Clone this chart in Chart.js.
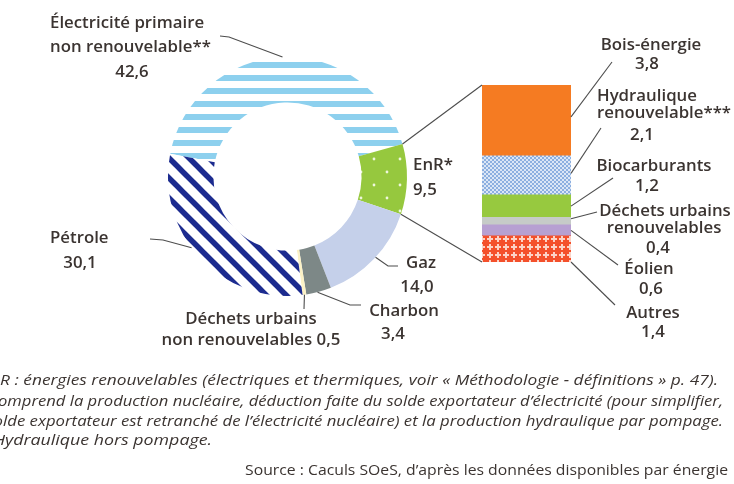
<!DOCTYPE html>
<html>
<head>
<meta charset="utf-8">
<script src="https://cdn.jsdelivr.net/npm/chart.js@4.4.1/dist/chart.umd.min.js"></script>
<style>
    html, body { margin: 0; padding: 0; background: #fff; }
    #wrap { position: relative; width: 734px; height: 484px; overflow: hidden; }
    canvas { position: absolute; }
    #donut { left: 160px; top: 49px; }
    #bar { left: 470px; top: 75px; }
    #overlay { left: 0; top: 0; pointer-events: none; }
</style>
</head>
<body>
<div id="wrap">
    <canvas id="donut" width="255" height="255"></canvas>
    <canvas id="bar" width="113" height="197"></canvas>
    <canvas id="overlay" width="734" height="484"></canvas>
</div>
<script>
// Consommation d'énergie primaire (%), ordre horaire depuis la gauche
const mixLabels = ['Électricité primaire non renouvelable', 'EnR', 'Gaz', 'Charbon', 'Déchets urbains non renouvelables', 'Pétrole'];
const mixValues = [42.6, 9.5, 14.0, 3.4, 0.5, 30.1];

// Détail des EnR, de haut en bas
const enrLabels = ['Bois-énergie', 'Hydraulique renouvelable', 'Biocarburants', 'Déchets urbains renouvelables', 'Éolien', 'Autres'];
const enrValues = [3.8, 2.1, 1.2, 0.4, 0.6, 1.4];

const TEXT = '#3b3431';
const LINE = '#4d4d4d';

const overlay = document.getElementById('overlay');
const octx = overlay.getContext('2d');

// Pattern helper
function makePattern(w, h, draw) {
    const c = document.createElement('canvas');
    c.width = w;
    c.height = h;
    const g = c.getContext('2d');
    draw(g, w, h);
    return octx.createPattern(c, 'repeat');
}

const elecPattern = makePattern(8, 13, (g, w, h) => {
    g.fillStyle = '#fff';
    g.fillRect(0, 0, w, h);
    g.fillStyle = '#8dd0ee';
    g.fillRect(0, 0, w, 6);
});

const petrolePattern = makePattern(20, 20, (g, w, h) => {
    g.fillStyle = '#fff';
    g.fillRect(0, 0, w, h);
    g.strokeStyle = '#1c2b8f';
    g.lineWidth = 5.5;
    [-20, 0, 20].forEach(o => {
        g.beginPath();
        g.moveTo(o - 2, -2);
        g.lineTo(o + 22, 22);
        g.stroke();
    });
});

const enrPattern = makePattern(26, 26, (g, w, h) => {
    g.fillStyle = '#96c83e';
    g.fillRect(0, 0, w, h);
    g.fillStyle = '#eef6dc';
    [[6, 6], [19, 19]].forEach(p => {
        g.beginPath();
        g.arc(p[0], p[1], 1.4, 0, Math.PI * 2);
        g.fill();
    });
});

const hydroPattern = makePattern(4, 4, (g, w, h) => {
    g.fillStyle = '#8cafe0';
    g.fillRect(0, 0, w, h);
    g.fillStyle = '#dbe6f6';
    g.fillRect(0, 0, 2, 2);
    g.fillRect(2, 2, 2, 2);
});

const autresPattern = makePattern(8, 8, (g, w, h) => {
    g.fillStyle = '#f4502b';
    g.fillRect(0, 0, w, h);
    g.fillStyle = '#fcd2c6';
    g.fillRect(3, 1, 2, 6);
    g.fillRect(1, 3, 6, 2);
});

const mixColors = [elecPattern, enrPattern, '#c5d0ea', '#7d8887', '#fbf1c6', petrolePattern];
const enrColors = ['#f57b22', hydroPattern, '#97c93f', '#c6cbc8', '#b7a0d2', autresPattern];

// Doughnut
const donutChart = new Chart(document.getElementById('donut'), {
    type: 'doughnut',
    data: {
        labels: mixLabels,
        datasets: [{
            data: mixValues,
            backgroundColor: mixColors,
            borderWidth: 0
        }]
    },
    options: {
        responsive: false,
        animation: false,
        rotation: -79,
        cutout: '62%',
        layout: { padding: 8 },
        plugins: {
            legend: { display: false },
            tooltip: { enabled: false }
        }
    }
});

// Stacked bar for EnR detail (bottom dataset first)
const enrTotal = enrValues.reduce((a, b) => a + b, 0);
const barDatasets = enrLabels.map((l, i) => ({
    label: l,
    data: [enrValues[i]],
    backgroundColor: enrColors[i],
    borderWidth: 0,
    barPercentage: 1,
    categoryPercentage: 1
})).reverse();

const barChart = new Chart(document.getElementById('bar'), {
    type: 'bar',
    data: { labels: ['EnR'], datasets: barDatasets },
    options: {
        responsive: false,
        animation: false,
        layout: { padding: { left: 12, right: 12, top: 10, bottom: 10 } },
        scales: {
            x: { stacked: true, display: false },
            y: { stacked: true, display: false, min: 0, max: enrTotal }
        },
        plugins: {
            legend: { display: false },
            tooltip: { enabled: false }
        }
    }
});

// ---- overlay: leader lines, labels, notes ----
const fmt = (v) => v.toFixed(1).replace('.', ',');

const donutBox = document.getElementById('donut');
const barBox = document.getElementById('bar');
const dx = donutBox.offsetLeft, dy = donutBox.offsetTop;
const bx = barBox.offsetLeft, by = barBox.offsetTop;

function arcPoint(i, t) {
    const a = donutChart.getDatasetMeta(0).data[i].getProps(['x', 'y', 'startAngle', 'endAngle', 'outerRadius']);
    const ang = a.startAngle + t * (a.endAngle - a.startAngle);
    return [dx + a.x + Math.cos(ang) * a.outerRadius, dy + a.y + Math.sin(ang) * a.outerRadius];
}

function barSeg(i) {
    const meta = barChart.getDatasetMeta(enrLabels.length - 1 - i);
    const b = meta.data[0].getProps(['x', 'y', 'base', 'width']);
    return { left: bx + b.x - b.width / 2, right: bx + b.x + b.width / 2, top: by + b.y, bottom: by + b.base };
}

function polyline(pts) {
    octx.beginPath();
    octx.moveTo(pts[0][0], pts[0][1]);
    pts.slice(1).forEach(p => octx.lineTo(p[0], p[1]));
    octx.stroke();
}

octx.strokeStyle = LINE;
octx.lineWidth = 1.1;

// donut leaders
polyline([[220, 36], [229, 37], arcPoint(0, 0.5)]);
polyline([[150, 239], [163, 240], arcPoint(5, 0.56)]);
polyline([arcPoint(4, 0.5), [304, 309]]);
polyline([arcPoint(3, 0.55), [350, 305], [361, 305]]);
polyline([arcPoint(2, 0.48), [388, 266], [398, 266]]);

// zoom lines from EnR slice to bar
const topSeg = barSeg(0);
const botSeg = barSeg(enrLabels.length - 1);
polyline([arcPoint(1, 0), [topSeg.left, topSeg.top]]);
polyline([arcPoint(1, 1), [botSeg.left, botSeg.bottom]]);

// bar leaders: [segment index, fraction from bottom, end point]
const barLeaders = [
    [0, 0.55, [612, 62]],
    [1, 0.55, [601, 128]],
    [2, 0.5, [613, 178]],
    [3, 0.8, [597, 212]],
    [4, 0.5, [618, 265]],
    [5, 0, [615, 305]]
];
barLeaders.forEach(([i, f, end]) => {
    const s = barSeg(i);
    polyline([[s.right, s.bottom - f * (s.bottom - s.top)], end]);
});

// labels
octx.fillStyle = TEXT;
octx.textBaseline = 'middle';
const labelFont = '600 17px "Open Sans"';
octx.font = labelFont;
const kLabel = 115 / octx.measureText('Biocarburants').width;

function txt(s, x, y, align, k, font) {
    octx.save();
    octx.font = font || labelFont;
    octx.textAlign = align || 'left';
    octx.translate(x, y);
    octx.scale(k || kLabel, 1);
    octx.fillText(s, 0, 0);
    octx.restore();
}

txt('Électricité primaire', 50, 23);
txt('non renouvelable**', 50, 47);
txt(fmt(mixValues[0]), 132, 72, 'center');
txt('Pétrole', 50, 238);
txt(fmt(mixValues[5]), 80, 263, 'center');
txt('Déchets urbains', 251, 319, 'center');
txt('non renouvelables ' + fmt(mixValues[4]), 251, 340, 'center');
txt('Charbon', 404, 311, 'center');
txt(fmt(mixValues[3]), 393, 334, 'center');
txt('Gaz', 421, 263, 'center');
txt(fmt(mixValues[2]), 417, 287, 'center');
txt('EnR*', 413, 165);
txt(fmt(mixValues[1]), 413, 190);

txt('Bois-énergie', 651, 45, 'center');
txt(fmt(enrValues[0]), 647, 64, 'center');
txt('Hydraulique', 597, 96);
txt('renouvelable***', 597, 113);
txt(fmt(enrValues[1]), 642, 135, 'center');
txt('Biocarburants', 654, 166, 'center');
txt(fmt(enrValues[2]), 647, 186, 'center');
txt('Déchets urbains', 665, 211, 'center');
txt('renouvelables', 664, 228, 'center');
txt(fmt(enrValues[3]), 658, 248, 'center');
txt('Éolien', 649, 269, 'center');
txt(fmt(enrValues[4]), 651, 289, 'center');
txt('Autres', 653, 313, 'center');
txt(fmt(enrValues[5]), 653, 332, 'center');

// footnotes: the frame cuts their left part, as in the source
// [hidden prefix, visible part, visible left x, right x, y]
const noteFont = 'italic 15px "Open Sans"';
const notes = [
    ['* En', 'R : énergies renouvelables (électriques et thermiques, voir « Méthodologie - définitions » p. 47).', 0, 718, 381],
    ['** C', 'omprend la production nucléaire, déduction faite du solde exportateur d’électricité (pour simplifier,', -2, 723, 402],
    ['le so', 'lde exportateur est retranché de l’électricité nucléaire) et la production hydraulique par pompage.', 3, 723, 422],
    ['*** H', 'ydraulique hors pompage.', 5, 212, 441]
];
notes.forEach(([pre, vis, x0, x1, y]) => {
    octx.font = noteFont;
    const k = (x1 - x0) / octx.measureText(vis).width;
    const start = x0 - k * octx.measureText(pre).width;
    txt(pre + vis, start, y, 'left', k, noteFont);
});

const srcFont = '15px "Open Sans"';
const src = 'Source : Caculs SOeS, d’après les données disponibles par énergie';
octx.font = srcFont;
const kSrc = 483 / octx.measureText(src).width;
txt(src, 728, 471, 'right', kSrc, srcFont);
</script>
</body>
</html>
